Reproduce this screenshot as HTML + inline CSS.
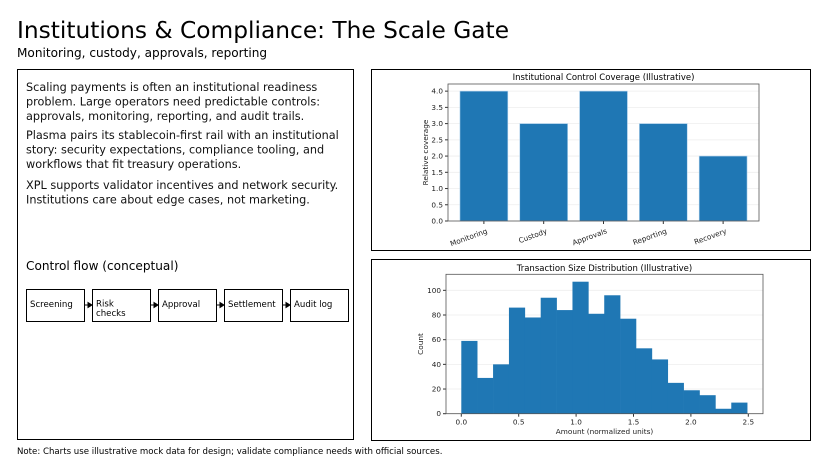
<!DOCTYPE html>
<html><head><meta charset="utf-8"><style>
body{margin:0;width:828px;height:466px;background:#fff;overflow:hidden;font-family:"DejaVu Sans","Liberation Sans",sans-serif}
svg text{font-family:"DejaVu Sans","Liberation Sans",sans-serif}
</style></head><body>
<svg id="s" width="828" height="466">
<text x="17" y="38" font-size="23.3" fill="#000">Institutions &amp; Compliance: The Scale Gate</text>
<text x="17" y="57" font-size="12.1" fill="#000">Monitoring, custody, approvals, reporting</text>
<rect x="17.5" y="69.5" width="336" height="370" fill="none" stroke="#000"/>
<g font-size="11.25" fill="#111">
<text x="26" y="91">Scaling payments is often an institutional readiness</text>
<text x="26" y="105.5">problem. Large operators need predictable controls:</text>
<text x="26" y="120">approvals, monitoring, reporting, and audit trails.</text>
<text x="26" y="139">Plasma pairs its stablecoin-first rail with an institutional</text>
<text x="26" y="153.5">story: security expectations, compliance tooling, and</text>
<text x="26" y="168">workflows that fit treasury operations.</text>
<text x="26" y="189">XPL supports validator incentives and network security.</text>
<text x="26" y="203.5">Institutions care about edge cases, not marketing.</text>
</g>
<text x="26" y="270" font-size="12.1">Control flow (conceptual)</text>
<g id="flow"></g>
<text x="17" y="454" font-size="8.6">Note: Charts use illustrative mock data for design; validate compliance needs with official sources.</text>
<rect x="371.5" y="69.5" width="439" height="181" fill="none" stroke="#000"/>
<rect x="371.5" y="259.5" width="439" height="181" fill="none" stroke="#000"/>
<g id="bar"></g>
<g id="hist"></g>
</svg>
<script>
const categories=["Monitoring","Custody","Approvals","Reporting","Recovery"];
const coverage=[4,3,4,3,2];
const barTicks=[0,0.5,1,1.5,2,2.5,3,3.5,4];
const histCounts=[59,29,40,86,78,94,84,107,81,96,77,53,44,25,19,15,4,9];
const histStart=0, histEnd=2.49;
const histYTicks=[0,20,40,60,80,100];
const histXTicks=[0,0.5,1,1.5,2,2.5];
const flowSteps=[["Screening"],["Risk","checks"],["Approval"],["Settlement"],["Audit log"]];
const NS="http://www.w3.org/2000/svg";
function el(p,t,a,txt){const e=document.createElementNS(NS,t);for(const k in a)e.setAttribute(k,a[k]);if(txt!=null)e.textContent=txt;p.appendChild(e);return e;}
const fl=document.getElementById('flow');
flowSteps.forEach((s,i)=>{const x=26+i*66;
 const r=el(fl,'rect',{x:x+.5,y:289.5,width:58,height:32,fill:'#fff',stroke:'#000'});
 
 
 s.forEach((l,j)=>{const t=el(fl,'text',{x:x+4,y:(s.length>1?306.5:307)+j*9.5,'font-size':8.6},l);
  
  });
 if(i<4){const a=el(fl,'path',{d:`M${x+58} 305 H${x+66} M${x+62} 302.5 L${x+66} 305 L${x+62} 307.5 Z`,stroke:'#000',fill:'#000','stroke-width':1});
  
  }
});
const bg=document.getElementById('bar');
const bL=448,bR=759,bT=84,bB=221,yMax=4.22;
const bx=v=>bL+(v+0.6)/5.2*(bR-bL);
const by=v=>bB-v/yMax*(bB-bT);
el(bg,'text',{x:(bL+bR)/2,y:80,'font-size':8.5,'text-anchor':'middle'},'Institutional Control Coverage (Illustrative)');
barTicks.forEach(v=>{el(bg,'line',{x1:bL,x2:bR,y1:by(v),y2:by(v),stroke:'#eee','stroke-width':.8});
 el(bg,'line',{x1:bL-3,x2:bL,y1:by(v),y2:by(v),stroke:'#333'});
 el(bg,'text',{x:bL-5,y:by(v)+2.5,'font-size':7.3,'text-anchor':'end',fill:'#222'},v.toFixed(1));});
categories.forEach((c,i)=>{const r=el(bg,'rect',{x:bx(i-0.4),y:by(coverage[i]),width:bx(0.4)-bx(-0.4),height:bB-by(coverage[i]),fill:'#1f77b4',stroke:'#aed0ec','stroke-width':.6});
 
 
 el(bg,'line',{x1:bx(i),x2:bx(i),y1:bB,y2:bB+3,stroke:'#333'});
 el(bg,'text',{x:bx(i)+4,y:bB+12,'font-size':7.3,'text-anchor':'end',transform:`rotate(-20 ${bx(i)+4} ${bB+12})`,fill:'#222'},c);});
el(bg,'rect',{x:bL,y:bT,width:bR-bL,height:bB-bT,fill:'none',stroke:'#555','stroke-width':.8});
el(bg,'text',{x:428,y:(bT+bB)/2,'font-size':7.3,'text-anchor':'middle',transform:`rotate(-90 428 ${(bT+bB)/2})`,fill:'#222'},'Relative coverage');
const hg=document.getElementById('hist');
const hL=446,hR=763,hT=274.3,hB=413.7;
const x0=461.3,pxu=114.8,hYMax=113;
const hx=v=>x0+v*pxu;
const hy=v=>hB-v/hYMax*(hB-hT);
el(hg,'text',{x:(hL+hR)/2,y:271,'font-size':8.5,'text-anchor':'middle'},'Transaction Size Distribution (Illustrative)');
histYTicks.forEach(v=>{el(hg,'line',{x1:hL,x2:hR,y1:hy(v),y2:hy(v),stroke:'#eee','stroke-width':.8});
 el(hg,'line',{x1:hL-3,x2:hL,y1:hy(v),y2:hy(v),stroke:'#333'});
 el(hg,'text',{x:hL-5,y:hy(v)+2.5,'font-size':7.3,'text-anchor':'end',fill:'#222'},v);});
const bw=(histEnd-histStart)/histCounts.length;
histCounts.forEach((c,i)=>{const a=histStart+i*bw;
 const r=el(hg,'rect',{x:hx(a),y:hy(c),width:hx(a+bw)-hx(a)+0.3,height:hB-hy(c),fill:'#1f77b4'});
 
 });
histXTicks.forEach(v=>{el(hg,'line',{x1:hx(v),x2:hx(v),y1:hB,y2:hB+3,stroke:'#333'});
 el(hg,'text',{x:hx(v),y:hB+11,'font-size':7.3,'text-anchor':'middle',fill:'#222'},v.toFixed(1));});
el(hg,'rect',{x:hL,y:hT,width:hR-hL,height:hB-hT,fill:'none',stroke:'#555','stroke-width':.8});
el(hg,'text',{x:(hL+hR)/2,y:434,'font-size':7.3,'text-anchor':'middle',fill:'#222'},'Amount (normalized units)');
el(hg,'text',{x:423,y:(hT+hB)/2,'font-size':7.3,'text-anchor':'middle',transform:`rotate(-90 423 ${(hT+hB)/2})`,fill:'#222'},'Count');
</script>
</body></html>
